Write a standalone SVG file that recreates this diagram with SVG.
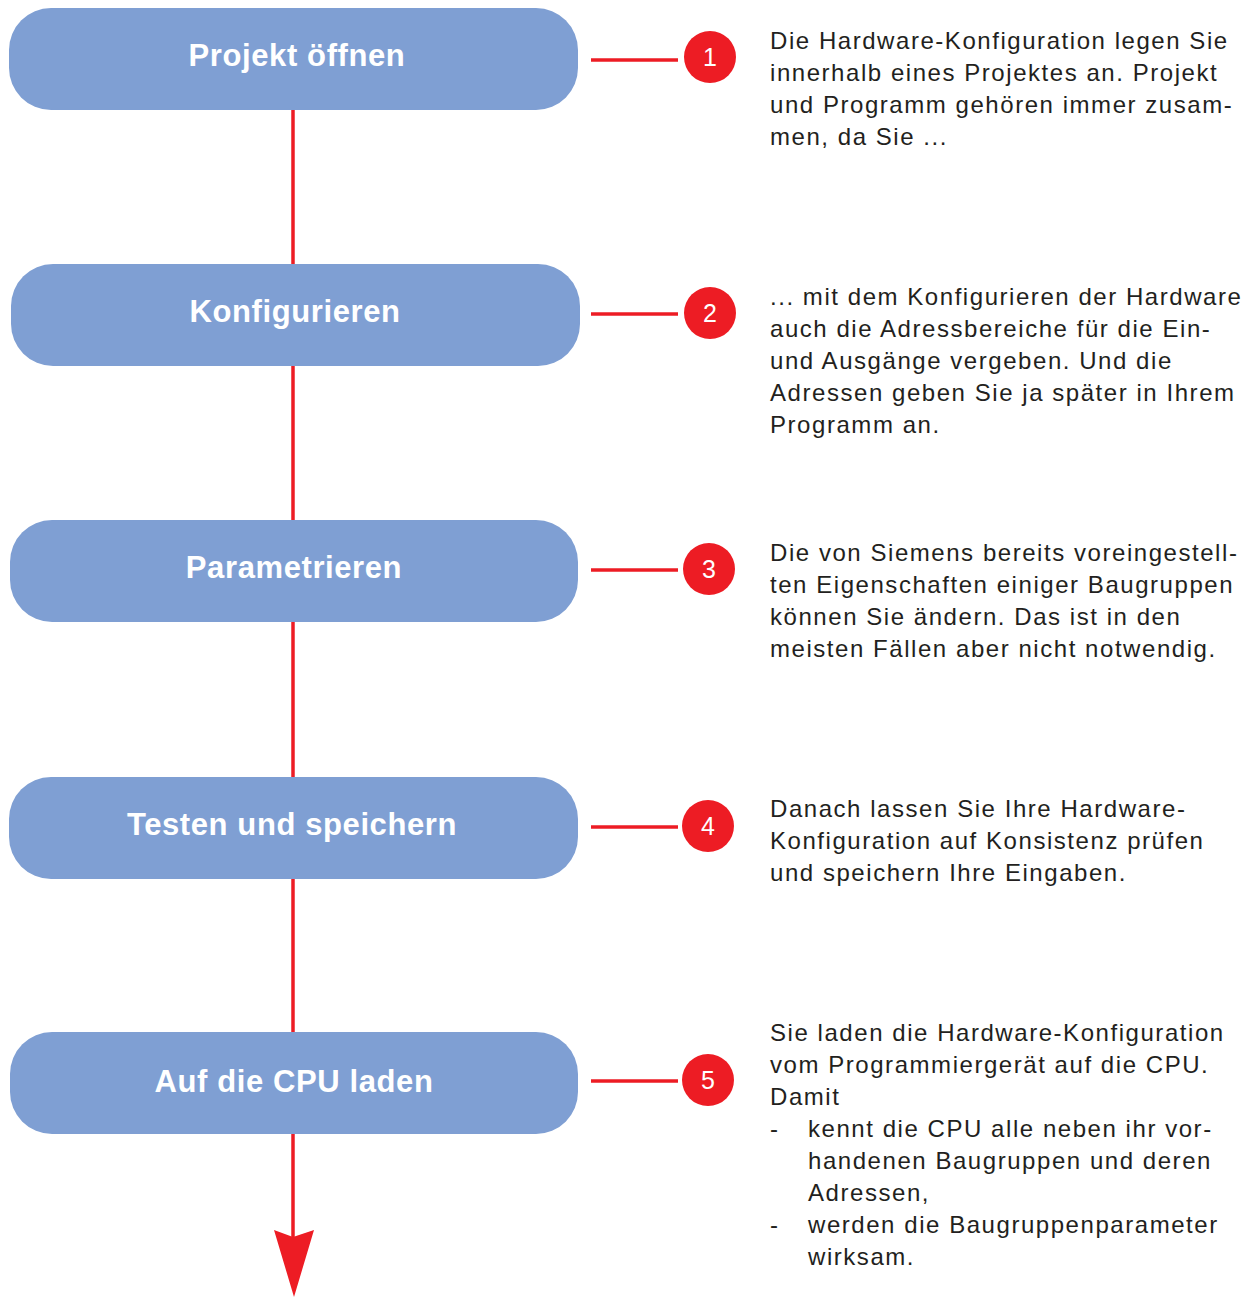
<svg xmlns="http://www.w3.org/2000/svg" width="1258" height="1298" viewBox="0 0 1258 1298">
<style>
.box{fill:#7f9fd3}
.lbl{font-family:"Liberation Sans",Arial,sans-serif;font-weight:bold;font-size:31px;letter-spacing:0.6px;fill:#ffffff;text-anchor:middle}
.ln{stroke:#ed1c24;stroke-width:3.5;fill:none}
.num{fill:#ed1c24}
.numt{font-family:"Liberation Sans",Arial,sans-serif;font-size:25px;fill:#ffffff;text-anchor:middle}
.desc{font-family:"Liberation Sans",Arial,sans-serif;font-size:24px;letter-spacing:1.55px;fill:#231f20}
</style>
<rect width="1258" height="1298" fill="#ffffff"/>
<g id="connectors">
<line class="ln" x1="293" y1="110" x2="293" y2="264"/>
<line class="ln" x1="293" y1="366" x2="293" y2="520"/>
<line class="ln" x1="293" y1="622" x2="293" y2="777"/>
<line class="ln" x1="293" y1="879" x2="293" y2="1032"/>
<line class="ln" x1="293" y1="1134" x2="293" y2="1240"/>
<polygon fill="#ed1c24" points="274,1230 293,1237 314,1230 294,1297"/>
<line class="ln" x1="591" y1="60" x2="678" y2="60"/>
<line class="ln" x1="591" y1="314" x2="678" y2="314"/>
<line class="ln" x1="591" y1="570" x2="678" y2="570"/>
<line class="ln" x1="591" y1="827" x2="678" y2="827"/>
<line class="ln" x1="591" y1="1081" x2="678" y2="1081"/>
</g>
<g id="node1"><rect class="box" x="9" y="8" width="569" height="102" rx="42"/><text class="lbl" x="297" y="66">Projekt öffnen</text></g>
<g id="node2"><rect class="box" x="11" y="264" width="569" height="102" rx="42"/><text class="lbl" x="295" y="322">Konfigurieren</text></g>
<g id="node3"><rect class="box" x="10" y="520" width="568" height="102" rx="42"/><text class="lbl" x="294" y="578">Parametrieren</text></g>
<g id="node4"><rect class="box" x="9" y="777" width="569" height="102" rx="42"/><text class="lbl" x="292" y="835">Testen und speichern</text></g>
<g id="node5"><rect class="box" x="10" y="1032" width="568" height="102" rx="42"/><text class="lbl" x="294" y="1092">Auf die CPU laden</text></g>
<g id="badge1"><circle class="num" cx="710" cy="57" r="26"/><text class="numt" x="710" y="66">1</text></g>
<g id="badge2"><circle class="num" cx="710" cy="313" r="26"/><text class="numt" x="710" y="322">2</text></g>
<g id="badge3"><circle class="num" cx="709" cy="569" r="26"/><text class="numt" x="709" y="578">3</text></g>
<g id="badge4"><circle class="num" cx="708" cy="826" r="26"/><text class="numt" x="708" y="835">4</text></g>
<g id="badge5"><circle class="num" cx="708" cy="1080" r="26"/><text class="numt" x="708" y="1089">5</text></g>
<g id="text1">
<text class="desc" x="770" y="49">Die Hardware-Konfiguration legen Sie</text>
<text class="desc" x="770" y="81">innerhalb eines Projektes an. Projekt</text>
<text class="desc" x="770" y="113">und Programm gehören immer zusam-</text>
<text class="desc" x="770" y="145">men, da Sie ...</text>
</g>
<g id="text2">
<text class="desc" x="770" y="305">... mit dem Konfigurieren der Hardware</text>
<text class="desc" x="770" y="337">auch die Adressbereiche für die Ein-</text>
<text class="desc" x="770" y="369">und Ausgänge vergeben. Und die</text>
<text class="desc" x="770" y="401">Adressen geben Sie ja später in Ihrem</text>
<text class="desc" x="770" y="433">Programm an.</text>
</g>
<g id="text3">
<text class="desc" x="770" y="561">Die von Siemens bereits voreingestell-</text>
<text class="desc" x="770" y="593">ten Eigenschaften einiger Baugruppen</text>
<text class="desc" x="770" y="625">können Sie ändern. Das ist in den</text>
<text class="desc" x="770" y="657">meisten Fällen aber nicht notwendig.</text>
</g>
<g id="text4">
<text class="desc" x="770" y="817">Danach lassen Sie Ihre Hardware-</text>
<text class="desc" x="770" y="849">Konfiguration auf Konsistenz prüfen</text>
<text class="desc" x="770" y="881">und speichern Ihre Eingaben.</text>
</g>
<g id="text5">
<text class="desc" x="770" y="1041">Sie laden die Hardware-Konfiguration</text>
<text class="desc" x="770" y="1073">vom Programmiergerät auf die CPU.</text>
<text class="desc" x="770" y="1105">Damit</text>
<text class="desc" x="770" y="1137">-</text>
<text class="desc" x="808" y="1137">kennt die CPU alle neben ihr vor-</text>
<text class="desc" x="808" y="1169">handenen Baugruppen und deren</text>
<text class="desc" x="808" y="1201">Adressen,</text>
<text class="desc" x="770" y="1233">-</text>
<text class="desc" x="808" y="1233">werden die Baugruppenparameter</text>
<text class="desc" x="808" y="1265">wirksam.</text>
</g>
</svg>
